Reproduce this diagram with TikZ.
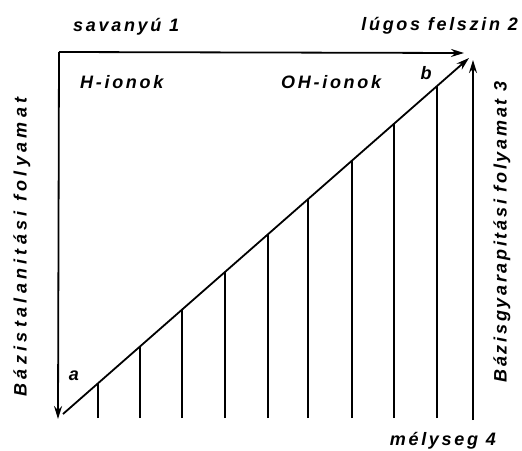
\documentclass[tikz,border=0pt]{standalone}
\usepackage{fontspec}
\setmainfont{Liberation Sans}
\newfontfamily\lbl[LetterSpace=15]{Liberation Sans}
\newfontfamily\lblwide[LetterSpace=24]{Liberation Sans}
\usetikzlibrary{arrows.meta}
\begin{document}
\begin{tikzpicture}[x=1pt,y=-1pt,
  ln/.style={line width=1.8pt},
  arr/.style={ln,-{Stealth[length=13pt,width=8pt]}},
  hatch/.style={line width=1.5pt},
  txt/.style={font=\lbl\fontsize{18}{20}\selectfont\bfseries\itshape, inner sep=0pt},
  txtw/.style={font=\lblwide\fontsize{18}{20}\selectfont\bfseries\itshape, inner sep=0pt}]
\useasboundingbox (0,0) rectangle (522,450);
% corners
\coordinate (tl) at (59,52);
\coordinate (bl) at (58,419);
\coordinate (tr) at (464,53);
\coordinate (a0) at (63,414);
\coordinate (b0) at (469,58);
\coordinate (rb) at (473,420);
\coordinate (rt) at (473,60);
% main arrows
\draw[arr] (tl) -- (tr);
\draw[arr] (tl) -- (bl);
\draw[arr] (a0) -- (b0);
\draw[arr] (rb) -- (rt);
% hatch lines
\foreach \x [count=\i] in {98,140,182,225,268,308,352,394,437}{
  \pgfmathsetmacro{\yy}{414-(\x-63)/406*356}
  \coordinate (h\i) at (\x,\yy);
  \coordinate (hb\i) at (\x,418);
  \draw[hatch] (hb\i) -- (h\i);
}
% labels
\node[txt, anchor=base west] (s1) at (73,31) {savanyú 1};
\node[txt, anchor=base east] (s2) at (518,30) {lúgos felszin 2};
\node[txt, anchor=base west] (hion) at (80,88) {H-ionok};
\node[txt, anchor=base west] (ohion) at (281,88) {OH-ionok};
\node[txt] (lb) at (426,73) {b};
\node[txt] (la) at (74,376) {a};
\node[txt, anchor=base east] (s4) at (496,445) {mélyseg 4};
\node[txtw, rotate=90] (s5) at (22,247) {Bázistalanitási folyamat};
\node[txt, rotate=90] (s3) at (502,232) {Bázisgyarapitási folyamat 3};
\end{tikzpicture}
\end{document}
